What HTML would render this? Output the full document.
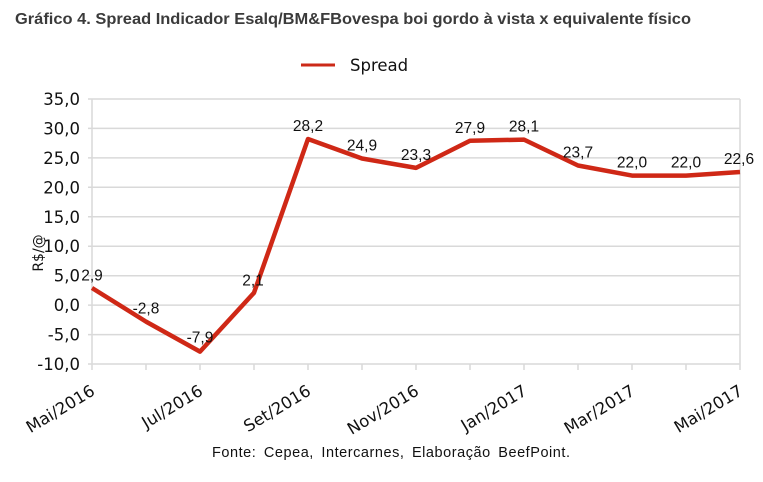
<!DOCTYPE html>
<html>
<head>
<meta charset="utf-8">
<style>
  html, body { margin: 0; padding: 0; background: #ffffff; }
  svg { display: block; }
</style>
</head>
<body>
<svg width="763" height="482" viewBox="0 0 763 482" xmlns="http://www.w3.org/2000/svg">
  <rect width="763" height="482" fill="#ffffff"/>
  <!-- Title -->
  <text x="15" y="24" font-family="Liberation Sans, sans-serif" font-weight="bold" font-size="16" fill="#3b3b3b" textLength="676" lengthAdjust="spacingAndGlyphs">Gráfico 4. Spread Indicador Esalq/BM&amp;FBovespa boi gordo à vista x equivalente físico</text>

  <!-- Legend -->
  <line x1="301" y1="65" x2="335" y2="65" stroke="#cc2a18" stroke-width="3"/>
  <text x="350" y="71" font-family="DejaVu Sans, sans-serif" font-size="16.5" fill="#111">Spread</text>

  <!-- Gridlines -->
  <g stroke="#d9d9d9" stroke-width="1.5" fill="none">
    <line x1="88" y1="99" x2="740" y2="99"/>
    <line x1="88" y1="128.4" x2="740" y2="128.4"/>
    <line x1="88" y1="157.9" x2="740" y2="157.9"/>
    <line x1="88" y1="187.3" x2="740" y2="187.3"/>
    <line x1="88" y1="216.8" x2="740" y2="216.8"/>
    <line x1="88" y1="246.2" x2="740" y2="246.2"/>
    <line x1="88" y1="275.7" x2="740" y2="275.7"/>
    <line x1="88" y1="305.1" x2="740" y2="305.1"/>
    <line x1="88" y1="334.6" x2="740" y2="334.6"/>
    <line x1="88" y1="364" x2="740" y2="364"/>
    <line x1="92" y1="99" x2="92" y2="370"/>
    <line x1="740" y1="99" x2="740" y2="370"/>
    <line x1="146" y1="364" x2="146" y2="370"/>
    <line x1="200" y1="364" x2="200" y2="370"/>
    <line x1="254" y1="364" x2="254" y2="370"/>
    <line x1="308" y1="364" x2="308" y2="370"/>
    <line x1="362" y1="364" x2="362" y2="370"/>
    <line x1="416" y1="364" x2="416" y2="370"/>
    <line x1="470" y1="364" x2="470" y2="370"/>
    <line x1="524" y1="364" x2="524" y2="370"/>
    <line x1="578" y1="364" x2="578" y2="370"/>
    <line x1="632" y1="364" x2="632" y2="370"/>
    <line x1="686" y1="364" x2="686" y2="370"/>
  </g>

  <!-- Y tick labels -->
  <g font-family="DejaVu Sans, sans-serif" font-size="16.5" fill="#111" text-anchor="end">
    <text x="80" y="105">35,0</text>
    <text x="80" y="134.4">30,0</text>
    <text x="80" y="163.9">25,0</text>
    <text x="80" y="193.3">20,0</text>
    <text x="80" y="222.8">15,0</text>
    <text x="80" y="252.2">10,0</text>
    <text x="80" y="281.7">5,0</text>
    <text x="80" y="311.1">0,0</text>
    <text x="80" y="340.6">-5,0</text>
    <text x="80" y="370">-10,0</text>
  </g>

  <!-- Y axis title -->
  <text transform="translate(43,253) rotate(-90)" font-family="DejaVu Sans, sans-serif" font-size="14" fill="#111" text-anchor="middle">R$/@</text>

  <!-- X labels -->
  <g font-family="DejaVu Sans, sans-serif" font-size="16.5" fill="#111" text-anchor="end">
    <text transform="translate(96,394) rotate(-31)">Mai/2016</text>
    <text transform="translate(204,394) rotate(-31)">Jul/2016</text>
    <text transform="translate(312,394) rotate(-31)">Set/2016</text>
    <text transform="translate(420,394) rotate(-31)">Nov/2016</text>
    <text transform="translate(528,394) rotate(-31)">Jan/2017</text>
    <text transform="translate(636,394) rotate(-31)">Mar/2017</text>
    <text transform="translate(744,394) rotate(-31)">Mai/2017</text>
  </g>

  <!-- Series -->
  <polyline fill="none" stroke="#cf2816" stroke-width="4.5" stroke-linejoin="round" stroke-linecap="butt"
    points="92,288 146,321.6 200,351.6 254,292.8 308,139 362,158.5 416,167.9 470,140.8 524,139.6 578,165.5 632,175.6 686,175.6 740,172"/>

  <!-- Data labels -->
  <g font-family="Liberation Sans, sans-serif" font-size="15.5" fill="#111" text-anchor="middle">
    <text x="92" y="280.5">2,9</text>
    <text x="146" y="313.5">-2,8</text>
    <text x="200" y="342.5">-7,9</text>
    <text x="253" y="285.5">2,1</text>
    <text x="308" y="131">28,2</text>
    <text x="362" y="150.5">24,9</text>
    <text x="416" y="160">23,3</text>
    <text x="470" y="133">27,9</text>
    <text x="524" y="131.5">28,1</text>
    <text x="578" y="157.5">23,7</text>
    <text x="632" y="167.5">22,0</text>
    <text x="686" y="167.5">22,0</text>
    <text x="739" y="164">22,6</text>
  </g>

  <!-- Source -->
  <text x="212" y="457" font-family="Liberation Sans, sans-serif" font-size="14.5" fill="#111" textLength="358" lengthAdjust="spacing" word-spacing="3">Fonte: Cepea, Intercarnes, Elaboração BeefPoint.</text>
</svg>
</body>
</html>
